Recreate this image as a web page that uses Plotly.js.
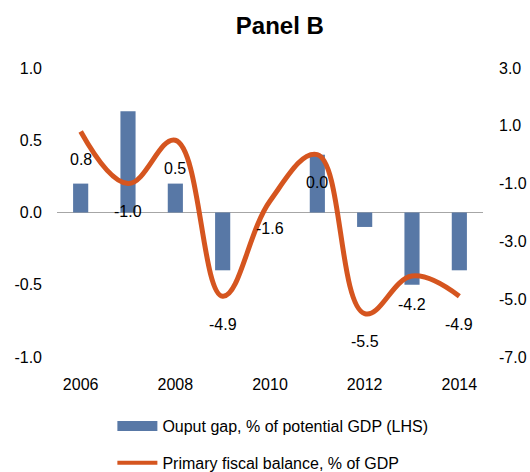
<!DOCTYPE html>
<html>
<head>
<meta charset="utf-8">
<script src="https://cdn.plot.ly/plotly-3.0.1.min.js"></script>
<style>html,body{margin:0;padding:0;background:#fff;}#chart{width:530px;height:472px;}</style>
</head>
<body>
<div id="chart"></div>
<script>
const years = [2006, 2007, 2008, 2009, 2010, 2011, 2012, 2013, 2014];
const outputGap = [0.2, 0.7, 0.2, -0.4, 0.0, 0.4, -0.1, -0.5, -0.4];
const fiscalBalance = [0.8, -1.0, 0.5, -4.9, -1.6, 0.0, -5.5, -4.2, -4.9];
const xTicks = [2006, 2008, 2010, 2012, 2014];
const leftTicks = [-1.0, -0.5, 0.0, 0.5, 1.0];
const rightTicks = [-7.0, -5.0, -3.0, -1.0, 1.0, 3.0];
const gapName = 'Ouput gap, % of potential GDP (LHS)';
const fiscalName = 'Primary fiscal balance, % of GDP';

const FONT = '"Liberation Sans", Arial, sans-serif';
const BLUE = '#5878A6';
const ORANGE = '#D5551F';

const traces = [
  {
    type: 'bar', x: years, y: outputGap, yaxis: 'y', width: 0.32,
    marker: {color: BLUE}, showlegend: false, hoverinfo: 'skip'
  },
  {
    type: 'scatter', mode: 'lines', x: years, y: fiscalBalance, yaxis: 'y2',
    line: {color: ORANGE, width: 5, shape: 'spline', smoothing: 1.15},
    showlegend: false, hoverinfo: 'skip'
  },
  // legend entries
  {
    type: 'scatter', mode: 'lines', x: [null], y: [null], name: gapName,
    line: {color: BLUE, width: 10}, legendgroup: 'a'
  },
  {
    type: 'scatter', mode: 'lines', x: [null], y: [null], name: fiscalName, yaxis: 'y2',
    line: {color: ORANGE, width: 4}, legendgroup: 'b'
  }
];

const annotations = years.map((yr, i) => ({
  x: yr, y: fiscalBalance[i], xref: 'x', yref: 'y2',
  text: fiscalBalance[i].toFixed(1), showarrow: false,
  yshift: -28, font: {family: FONT, size: 16, color: '#000'}
}));

const layout = {
  width: 530, height: 472,
  margin: {l: 57, r: 47, t: 68, b: 115, autoexpand: false},
  paper_bgcolor: '#fff', plot_bgcolor: '#fff',
  font: {family: FONT, size: 16, color: '#000'},
  title: {
    text: '<b>Panel B</b>', x: 0.528, xanchor: 'center', y: 0.945, yanchor: 'middle',
    font: {family: FONT, size: 24, color: '#000'}
  },
  xaxis: {
    range: [2005.5, 2014.5], tickvals: xTicks, ticktext: xTicks.map(String),
    showgrid: false, zeroline: false, showline: false, ticks: '',
    ticklabelstandoff: 16, tickfont: {family: FONT, size: 16, color: '#000'}
  },
  yaxis: {
    range: [-1, 1], tickvals: leftTicks, ticktext: leftTicks.map(v => v.toFixed(1)),
    showgrid: false, zeroline: true, zerolinecolor: '#A6A6A6', zerolinewidth: 1.5,
    showline: false, ticks: '', ticklabelstandoff: 14,
    tickfont: {family: FONT, size: 16, color: '#000'}
  },
  yaxis2: {
    range: [-7, 3], tickvals: rightTicks, ticktext: rightTicks.map(v => v.toFixed(1)),
    overlaying: 'y', side: 'right', showgrid: false, zeroline: false, showline: false,
    ticks: '', ticklabelstandoff: 15,
    tickfont: {family: FONT, size: 16, color: '#000'}
  },
  legend: {
    x: 0.13, xanchor: 'left', y: -0.18, yanchor: 'top', orientation: 'v',
    traceorder: 'grouped', tracegroupgap: 13, itemwidth: 40,
    font: {family: FONT, size: 16, color: '#000'}, bgcolor: 'rgba(0,0,0,0)'
  },
  annotations: annotations,
  showlegend: true
};

Plotly.newPlot('chart', traces, layout, {displayModeBar: false, staticPlot: true});
</script>
</body>
</html>
